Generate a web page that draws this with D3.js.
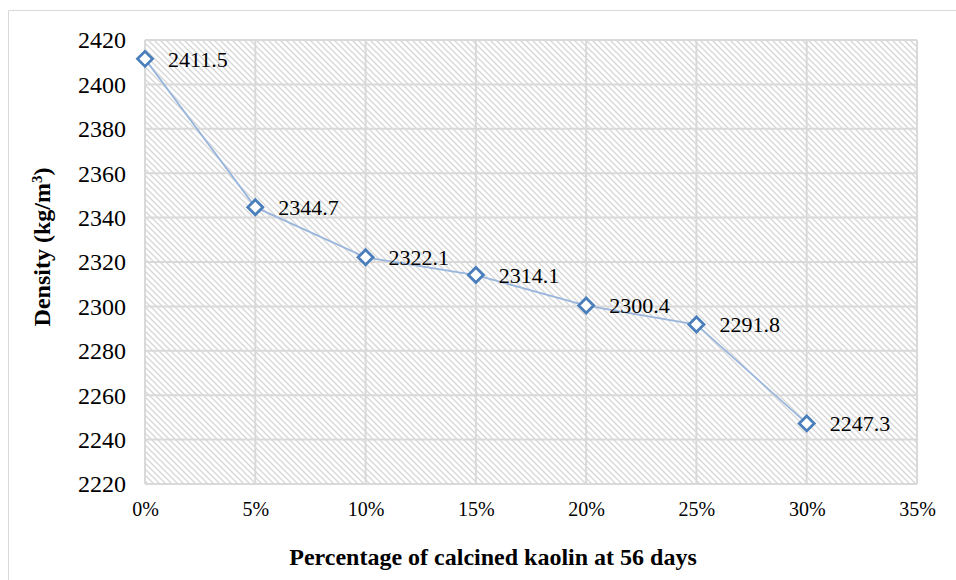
<!DOCTYPE html>
<html><head><meta charset="utf-8">
<script src="https://cdn.jsdelivr.net/npm/d3@7"></script>
<style>body{margin:0;background:#fff}svg{display:block}</style>
</head><body><svg id="c" width="956" height="580"></svg>
<script>
const categories = [0, 0.05, 0.10, 0.15, 0.20, 0.25, 0.30];
const densities = [2411.5, 2344.7, 2322.1, 2314.1, 2300.4, 2291.8, 2247.3];
const xTicks = [0, 0.05, 0.10, 0.15, 0.20, 0.25, 0.30, 0.35];
const yTicks = [2220, 2240, 2260, 2280, 2300, 2320, 2340, 2360, 2380, 2400, 2420];
const xTitle = "Percentage of calcined kaolin at 56 days";

const FONT = '"Liberation Serif", "Times New Roman", Tinos, serif';
const svg = d3.select("#c");
const L = 145, R = 917, T = 40, B = 484;
const x = d3.scaleLinear().domain([0, 0.35]).range([L, R]);
const y = d3.scaleLinear().domain([2220, 2420]).range([B, T]);

// outer border
svg.append("line").attr("x1",8.5).attr("x2",956).attr("y1",10.5).attr("y2",10.5).attr("stroke","#d9d9d9");
svg.append("line").attr("x1",8.5).attr("x2",8.5).attr("y1",10.5).attr("y2",580).attr("stroke","#d9d9d9");

const defs = svg.append("defs");
const pat = defs.append("pattern").attr("id","hatch").attr("patternUnits","userSpaceOnUse")
  .attr("width",6).attr("height",6);
pat.append("rect").attr("width",6).attr("height",6).attr("fill","#fff");
pat.append("path").attr("d","M0,0L6,6M-3,3L3,9M3,-3L9,3").attr("stroke","#d6d6d6").attr("stroke-width",1.3);

svg.append("rect").attr("x",L).attr("y",T).attr("width",R-L).attr("height",B-T).attr("fill","url(#hatch)");

// grid
const g = svg.append("g");
g.selectAll(".hg").data(yTicks).join("line").attr("x1",L).attr("x2",R)
  .attr("y1",d=>y(d)).attr("y2",d=>y(d)).attr("stroke","#d9d9d9").attr("stroke-width",2);
g.selectAll(".vg").data(xTicks).join("line").attr("y1",T).attr("y2",B)
  .attr("x1",d=>x(d)).attr("x2",d=>x(d)).attr("stroke","#d9d9d9").attr("stroke-width",2);

// axes (labels only) via d3 axes
const yAxis = svg.append("g").attr("transform",`translate(${L},0)`)
  .call(d3.axisLeft(y).tickValues(yTicks).tickSize(0).tickPadding(19).tickFormat(d3.format("d")));
yAxis.select(".domain").remove();
yAxis.selectAll("text").style("font-family",FONT).style("font-size","24px").attr("fill","#000").attr("dy","0.33em");

const xAxis = svg.append("g").attr("transform",`translate(0,${B})`)
  .call(d3.axisBottom(x).tickValues(xTicks).tickSize(0).tickPadding(18).tickFormat(d3.format(".0%")));
xAxis.select(".domain").remove();
xAxis.selectAll("text").style("font-family",FONT).style("font-size","20px").attr("fill","#000");

const data = categories.map((c,i)=>({x:c,y:densities[i]}));
svg.append("path").datum(data).attr("fill","none").attr("stroke","#9ab6dc").attr("stroke-width",1.8)
  .attr("d", d3.line().x(d=>x(d.x)).y(d=>y(d.y)));

svg.selectAll(".m").data(data).join("path")
  .attr("transform",d=>`translate(${x(d.x)},${y(d.y)})`)
  .attr("d","M0,-7.5L7.5,0L0,7.5L-7.5,0Z").attr("fill","#fff").attr("stroke","#4a7ebb").attr("stroke-width",2.8);

svg.selectAll(".lbl").data(data).join("text")
  .attr("x",d=>x(d.x)+23).attr("y",d=>y(d.y)).attr("dy","0.35em")
  .style("font-family",FONT).style("font-size","22px").text(d=>d.y.toFixed(1));

svg.append("text").attr("x",493).attr("y",565).attr("text-anchor","middle")
  .style("font-family",FONT).style("font-size","24px").attr("font-weight","bold").text(xTitle);

const yt = svg.append("text").attr("transform","translate(50,247) rotate(-90)").attr("text-anchor","middle")
  .style("font-family",FONT).style("font-size","24px").attr("font-weight","bold");
yt.append("tspan").text("Density (kg/m");
yt.append("tspan").attr("baseline-shift","super").style("font-size","15px").text("3");
yt.append("tspan").text(")");
</script></body></html>
